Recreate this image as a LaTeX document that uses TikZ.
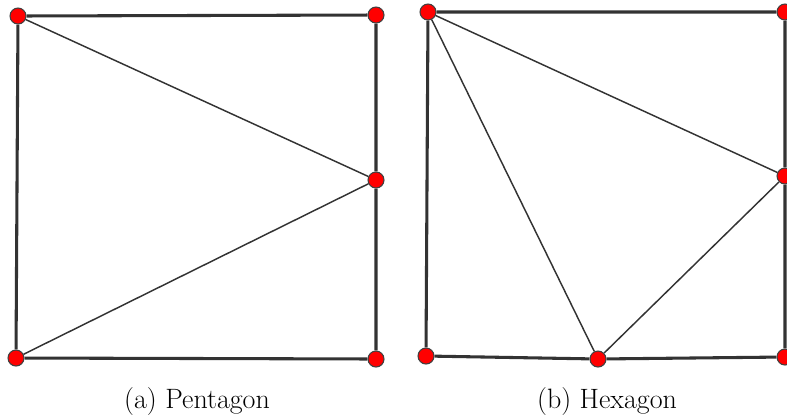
\documentclass[tikz,border=0pt]{standalone}
\usepackage{tikz}

\tikzset{
    vertex/.style={circle, fill=red, draw=black!75, line width=0.8pt, minimum size=12pt, inner sep=0pt},
    costat/.style={line width=2.3pt, black!80},
    diagonal/.style={line width=1.1pt, black!80},
    peu/.style={font=\fontsize{21}{25}\selectfont, anchor=base}
}

\begin{document}
\begin{tikzpicture}[x=0.75pt, y=-0.75pt]
    \useasboundingbox (0,0) rectangle (787,419);

    % PENTAGON
    \node[vertex] (pa1) at (18,16) {};
    \node[vertex] (pa2) at (376,15) {};
    \node[vertex] (pa3) at (376,180) {};
    \node[vertex] (pa4) at (376,359) {};
    \node[vertex] (pa5) at (16,358) {};
    \draw[costat] (pa1) -- (pa2) -- (pa3) -- (pa4) -- (pa5) -- (pa1);
    \draw[diagonal] (pa1) -- (pa3);
    \draw[diagonal] (pa5) -- (pa3);
    \node[peu] (capa) at (197,408) {(a)\ Pentagon};

    % HEXAGON
    \node[vertex] (hb1) at (428,12) {};
    \node[vertex] (hb2) at (785,12) {};
    \node[vertex] (hb3) at (785,176) {};
    \node[vertex] (hb4) at (785,357) {};
    \node[vertex] (hb5) at (598,359) {};
    \node[vertex] (hb6) at (426,356) {};
    \draw[costat] (hb1) -- (hb2) -- (hb3) -- (hb4) -- (hb5) -- (hb6) -- (hb1);
    \draw[diagonal] (hb1) -- (hb3);
    \draw[diagonal] (hb1) -- (hb5);
    \draw[diagonal] (hb5) -- (hb3);
    \node[peu] (capb) at (607,408) {(b)\ Hexagon};

\end{tikzpicture}
\end{document}
